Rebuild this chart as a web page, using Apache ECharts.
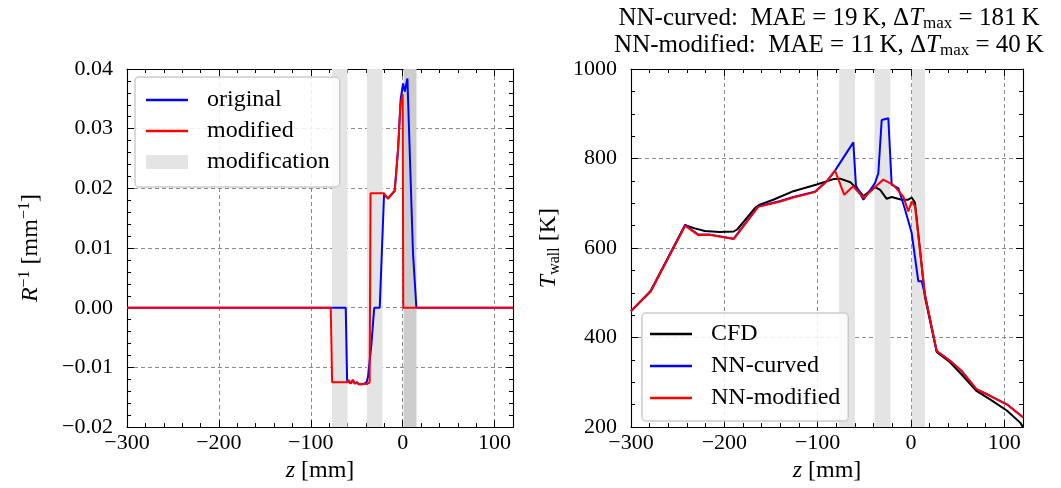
<!DOCTYPE html>
<html><head><meta charset="utf-8">
<script src="https://cdn.jsdelivr.net/npm/echarts@6/dist/echarts.min.js"></script>
<style>html,body{margin:0;padding:0;background:#fff}#c{width:1061px;height:488px}</style>
</head><body><div id="c"></div>
<script>
// ---------- data (left panel: curvature) ----------
const origZ = [-300, -62, -60.5, -58.7, -56.5, -54.3, -52.2, -50, -47.8, -45.7, -43.5, -41.3, -39.1, -37.7, -34, -31, -25, -20.3, -16, -8.7, -5, -2.2, 0.4, 2.2, 5.1, 11.2, 14.9, 120];
const origR = [0, 0, -0.0122, -0.0121, -0.0127, -0.0121, -0.0127, -0.0125, -0.0128, -0.0127, -0.0128, -0.0127, -0.0124, -0.0115, -0.006, 0, 0, 0.0190, 0.0183, 0.0196, 0.0267, 0.0350, 0.0376, 0.0362, 0.0384, 0.0091, 0, 0];
const modZ = [-300, -78.3, -76.8, -60, -58.7, -56.5, -54.3, -52.2, -50, -47.8, -45.7, -43.5, -41.3, -39.1, -37, -36, -35, -20.6, -16, -8.7, -5, -2.5, 0, 0.6, 120];
const modR = [0, 0, -0.0125, -0.0125, -0.0121, -0.0127, -0.0121, -0.0127, -0.0125, -0.0128, -0.0127, -0.0128, -0.0127, -0.0128, -0.0127, -0.0125, 0.0192, 0.0192, 0.0183, 0.0196, 0.0267, 0.0340, 0.0358, 0, 0];
const bandsZ = [[-77, -60], [-39, -22], [1, 15]];

// ---------- data (right panel: wall temperature) ----------
const cfdZ = [-300, -279, -242, -231.5, -221, -205, -190, -186, -167, -162, -147.6, -126, -101, -83, -76, -65, -56.5, -51, -38.6, -33, -26, -20.7, -10, -3, 0.7, 4.3, 9.6, 15, 27.5, 41.8, 54, 70, 84.7, 102.6, 117, 120];
const cfdT = [459, 504, 651, 644, 638, 636, 637, 642, 690, 697, 708, 727, 742, 754, 755, 747, 730, 716, 736, 730, 710, 714, 708, 708, 713, 701, 597, 490, 368, 345, 318, 281, 262, 237, 210, 200];
const curvZ = [-300, -279, -242, -228, -215, -190, -163.7, -140, -126, -103, -90, -81.4, -61.8, -59, -51, -38.6, -35, -31.4, -24.3, -20.7, -13.6, -6.4, 0.7, 7.8, 11.5, 15, 27.5, 41.8, 54, 70, 84.7, 102.6, 120];
const curvT = [459, 503, 652, 630, 630, 621, 693, 705, 714, 726, 750, 773, 836, 740, 708, 745, 767, 886, 890, 741, 734, 686, 634, 526, 526, 495, 370, 348, 326, 285, 270, 251, 222];
const nnModZ = [-300, -279, -242, -228, -215, -190, -163.7, -140, -126, -103, -90, -81.4, -71.5, -62, -51, -29.7, -19, -8.2, -2.9, 0.7, 4.3, 15, 27.5, 41.8, 54, 70, 84.7, 102.6, 120];
const nnModT = [459, 503, 650, 629, 629, 620, 692, 704, 713, 725, 749, 773, 719, 738, 712, 753, 741, 715, 682, 704, 693, 495, 370, 348, 326, 285, 270, 251, 222];

// ---------- ticks / labels ----------
const zRange = [-300, 120];
const zMajor = 100, zMinor = 20;
const rRange = [-0.02, 0.04], rMajor = 0.01;
const tRange = [200, 1000], tMajor = 200;
const title1 = 'NN-curved:  MAE = 19\u2009K, \u0394{i|T}{s|max} = 181\u2009K';
const title2 = 'NN-modified:  MAE = 11\u2009K, \u0394{i|T}{s|max} = 40\u2009K';

const FONT = '"Liberation Serif", "DejaVu Serif", serif';
const FS = 22;   // tick labels
const FT = 24;   // words (legend, axis names)
const FTT = 25;  // title
const MINUS = '\u2212';
const zip = (a, b) => a.map((v, i) => [v, b[i]]);

const chart = echarts.init(document.getElementById('c'), null, {renderer: 'canvas'});

const grids = [
  {left: 127, top: 69, width: 386, height: 359},
  {left: 631, top: 69, width: 392, height: 359}
];

const dash = {type: [4, 3], color: '#8a8a8a', width: 1};
const frame = {show: true, onZero: false, lineStyle: {color: '#000', width: 1.1}};
const lblStyle = {fontFamily: FONT, fontSize: FS, color: '#000'};
const nameStyle = {fontFamily: FONT, fontSize: FT, color: '#000'};

function xAxes(g) {
  const base = {gridIndex: g, type: 'value', min: zRange[0], max: zRange[1]};
  return [
    Object.assign({}, base, {
      position: 'bottom', interval: zMajor, axisLine: frame,
      axisTick: {inside: true, length: 7, lineStyle: {color: '#000'}},
      axisLabel: Object.assign({}, lblStyle, {margin: 5,
        formatter: v => (Math.round(v) % 100 === 0 ? String(v).replace('-', MINUS) : '')}),
      splitLine: {show: true, lineStyle: dash},
      name: '{i|z} [mm]', nameLocation: 'middle', nameGap: 31,
      nameTextStyle: Object.assign({}, nameStyle, {rich: {i: {fontStyle: 'italic', fontFamily: FONT, fontSize: FT}}})
    }),
    Object.assign({}, base, {
      position: 'bottom', interval: zMinor, axisLine: {show: false, onZero: false},
      axisTick: {inside: true, length: 4, lineStyle: {color: '#000'}},
      axisLabel: {show: false}, splitLine: {show: false}
    }),
    Object.assign({}, base, {
      position: 'top', interval: zMajor, axisLine: frame,
      axisTick: {inside: true, length: 7, lineStyle: {color: '#000'}},
      axisLabel: {show: false}, splitLine: {show: false}
    }),
    Object.assign({}, base, {
      position: 'top', interval: zMinor, axisLine: {show: false, onZero: false},
      axisTick: {inside: true, length: 4, lineStyle: {color: '#000'}},
      axisLabel: {show: false}, splitLine: {show: false}
    })
  ];
}

function yAxes(g, range, interval, minorSplit, fmt, name, rich, nameGap) {
  const base = {gridIndex: g, type: 'value', min: range[0], max: range[1], interval: interval};
  return [
    Object.assign({}, base, {
      position: 'left', axisLine: frame,
      axisTick: {inside: true, length: 7, lineStyle: {color: '#000'}},
      minorTick: {show: true, splitNumber: minorSplit, length: 4, lineStyle: {color: '#000'}},
      axisLabel: Object.assign({}, lblStyle, {margin: 14, formatter: fmt}),
      splitLine: {show: true, lineStyle: dash},
      name: name, nameLocation: 'middle', nameRotate: 90, nameGap: nameGap,
      nameTextStyle: Object.assign({}, nameStyle, {rich: rich})
    }),
    Object.assign({}, base, {
      position: 'right', axisLine: frame,
      axisTick: {inside: true, length: 7, lineStyle: {color: '#000'}},
      minorTick: {show: true, splitNumber: minorSplit, length: 4, lineStyle: {color: '#000'}},
      axisLabel: {show: false}, splitLine: {show: false}
    })
  ];
}

const fmtR = v => (Math.abs(v) < 1e-9 ? '0.00' : v.toFixed(2)).replace('-', MINUS);
const fmtT = v => String(Math.round(v));

const richR = {
  i: {fontStyle: 'italic', fontFamily: FONT, fontSize: FT},
  sup: {fontFamily: FONT, fontSize: 16, padding: [0, 0, 12, 0]}
};
const richT = {
  i: {fontStyle: 'italic', fontFamily: FONT, fontSize: FT},
  sub: {fontFamily: FONT, fontSize: 16, padding: [12, 0, 0, 0]}
};

const xAxis = xAxes(0).concat(xAxes(1));
const yAxis = yAxes(0, rRange, rMajor, 5, fmtR, '{i|R}{sup|' + MINUS + '1} [mm{sup|' + MINUS + '1}]', richR, 82)
  .concat(yAxes(1, tRange, tMajor, 4, fmtT, '{i|T}{sub|wall} [K]', richT, 68));

const lineSeries = (name, xi, yi, data, color, z) => ({
  name, type: 'line', xAxisIndex: xi, yAxisIndex: yi, data, symbol: 'none',
  color, lineStyle: {color, width: 2}, itemStyle: {color}, z, animation: false
});

const bandColor = '#e4e4e4';
const leftBands = bandsZ.map((b, i) => [
  {xAxis: b[0], itemStyle: {color: i === 2 ? '#cdcdcd' : bandColor}}, {xAxis: b[1]}
]);
const rightBands = bandsZ.map(b => [{xAxis: b[0]}, {xAxis: b[1]}]);

const series = [
  {name: 'modification', type: 'line', xAxisIndex: 0, yAxisIndex: 0, data: [], symbol: 'none',
   color: bandColor, itemStyle: {color: bandColor}, lineStyle: {color: bandColor}, z: 1,
   markArea: {silent: true, itemStyle: {color: bandColor}, data: leftBands}},
  lineSeries('original', 0, 0, zip(origZ, origR), '#0000ff', 3),
  lineSeries('modified', 0, 0, zip(modZ, modR), '#ff0000', 4),
  {name: 'bands', type: 'line', xAxisIndex: 4, yAxisIndex: 2, data: [], symbol: 'none', z: 1,
   markArea: {silent: true, itemStyle: {color: bandColor}, data: rightBands}},
  lineSeries('CFD', 4, 2, zip(cfdZ, cfdT), '#000000', 3),
  lineSeries('NN-curved', 4, 2, zip(curvZ, curvT), '#0000ff', 4),
  lineSeries('NN-modified', 4, 2, zip(nnModZ, nnModT), '#ff0000', 5)
];

const LINE_ICON = 'path://M0,0H40V2.2H0Z';
const legendBase = {
  orient: 'vertical', itemWidth: 42, itemHeight: 14, itemGap: 7,
  backgroundColor: 'rgba(255,255,255,0.85)', borderColor: '#cccccc', borderWidth: 1.5, borderRadius: 4,
  itemStyle: {borderWidth: 0},
  textStyle: {fontFamily: FONT, fontSize: FT, color: '#000', padding: [0, 0, 0, 14]},
  selectedMode: false
};

const option = {
  animation: false,
  backgroundColor: '#fff',
  grid: grids,
  xAxis, yAxis,
  legend: [
    Object.assign({}, legendBase, {left: 135, top: 77, padding: [11, 10, 13, 11],
      textStyle: Object.assign({}, legendBase.textStyle, {width: 135}),
      data: [{name: 'original', icon: LINE_ICON}, {name: 'modified', icon: LINE_ICON}, {name: 'modification', icon: 'rect'}]}),
    Object.assign({}, legendBase, {left: 642, top: 313, padding: [9, 8, 11, 8], itemGap: 8,
      textStyle: Object.assign({}, legendBase.textStyle, {width: 144}),
      data: [{name: 'CFD', icon: LINE_ICON}, {name: 'NN-curved', icon: LINE_ICON}, {name: 'NN-modified', icon: LINE_ICON}]})
  ],
  graphic: [1, 2].map(k => ({
    type: 'text', x: 829, y: k === 1 ? 18 : 45, z: 10,
    style: {
      text: k === 1 ? title1 : title2,
      fontFamily: FONT, fontSize: FTT, fill: '#000', align: 'center', verticalAlign: 'middle',
      rich: {
        i: {fontStyle: 'italic', fontFamily: FONT, fontSize: FTT},
        s: {fontFamily: FONT, fontSize: 17, padding: [12, 0, 0, 0]}
      }
    }
  })),
  series
};
chart.setOption(option);
</script>
</body></html>
